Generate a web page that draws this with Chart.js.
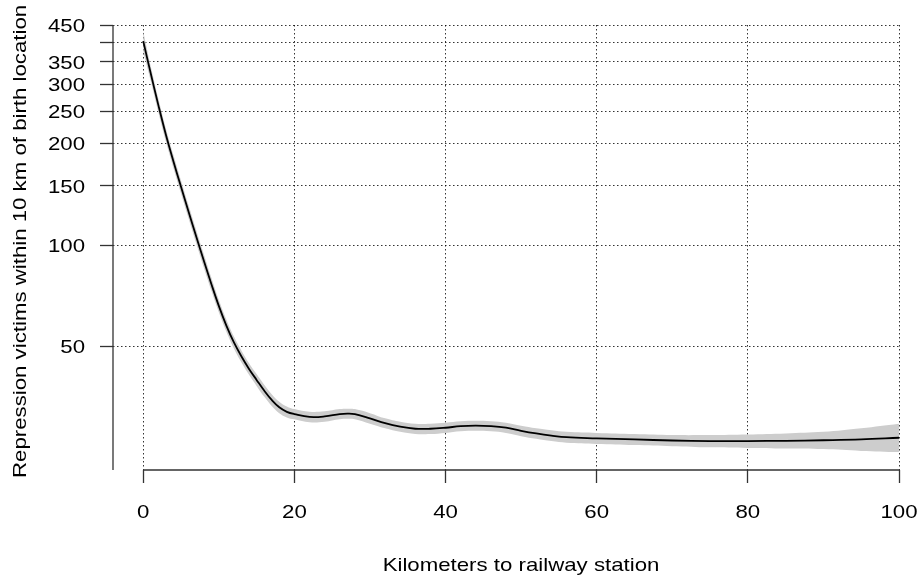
<!DOCTYPE html>
<html>
<head>
<meta charset="utf-8">
<script src="https://cdn.jsdelivr.net/npm/chart.js@4.4.1/dist/chart.umd.min.js"></script>
<style>
  html, body { margin: 0; padding: 0; background: #fff; }
  canvas { display: block; }
</style>
</head>
<body>
<canvas id="smoothChart" width="920" height="581"></canvas>
<script>
// Distance to railway station (km) and fitted victims count with its band
const kmValues = [0, 1, 2, 3, 4, 5, 6, 7, 8, 9, 10, 11, 12, 13, 14, 15, 16, 17, 18, 19, 20,
  22, 24, 26, 27, 28, 30, 32, 34, 36, 38, 40, 42, 44, 46, 48, 50, 52, 54, 56, 60,
  65, 70, 75, 80, 85, 90, 95, 100];
const fitValues = [403, 322.8, 260.3, 212.5, 177.1, 148.9, 125.6, 106.2, 90.1, 76.8, 66.0, 57.7, 51.4, 46.7, 42.9, 39.8, 37.0, 34.7, 33.0, 32.0, 31.5,
  30.9, 31.0, 31.5, 31.6, 31.5, 30.6, 29.6, 28.9, 28.5, 28.5, 28.7, 29.0, 29.1, 29.0, 28.7, 28.1, 27.6, 27.2, 26.9, 26.7,
  26.5, 26.3, 26.2, 26.2, 26.25, 26.35, 26.5, 26.8];
const upperValues = [431, 339, 272.5, 222, 185, 155.6, 131.3, 111, 94.2, 80.2, 68.8, 60.1, 53.5, 48.6, 44.6, 41.4, 38.5, 36.1, 34.3, 33.2, 32.6,
  32.0, 32.1, 32.6, 32.7, 32.6, 31.7, 30.6, 29.9, 29.5, 29.5, 29.7, 30.0, 30.1, 30.0, 29.7, 29.1, 28.6, 28.2, 27.9, 27.7,
  27.5, 27.3, 27.3, 27.4, 27.6, 27.9, 28.6, 29.5];
const lowerValues = [375, 307, 248, 203, 169.2, 142.2, 120, 101.4, 86, 73.4, 63.2, 55.3, 49.3, 44.8, 41.2, 38.2, 35.5, 33.3, 31.7, 30.8, 30.4,
  29.8, 29.9, 30.4, 30.5, 30.4, 29.5, 28.6, 27.9, 27.5, 27.5, 27.7, 28.0, 28.1, 28.0, 27.7, 27.1, 26.6, 26.2, 25.9, 25.7,
  25.5, 25.3, 25.1, 25.0, 24.9, 24.8, 24.5, 24.3];

const xTicks = [0, 20, 40, 60, 80, 100];
const xTickLabels = ['0', '20', '40', '60', '80', '100'];
const yTicks = [50, 100, 150, 200, 250, 300, 350, 400, 450];
const yTickLabels = ['50', '100', '150', '200', '250', '300', '350', '', '450'];

const xTitle = 'Kilometers to railway station';
const yTitle = 'Repression victims within 10 km of birth location';

const FONT = "19px 'Liberation Sans', Arial, sans-serif";
const STRETCH = 1.17; // the reference text is set a little wide
const toPoints = vals => kmValues.map((k, i) => ({ x: k, y: vals[i] }));

function drawText(ctx, text, x, y, align, angle) {
  ctx.save();
  ctx.translate(x, y);
  if (angle) ctx.rotate(angle);
  ctx.scale(STRETCH, 1);
  ctx.textAlign = align;
  ctx.fillText(text, 0, 0);
  ctx.restore();
}

// R style axes: y line over the full height, x line only between first and last tick
const axesAndTitles = {
  id: 'axesAndTitles',
  afterDraw(chart) {
    const { ctx, chartArea, scales } = chart;
    ctx.save();
    ctx.strokeStyle = '#333';
    ctx.lineWidth = 1.3;
    ctx.beginPath();
    ctx.moveTo(chartArea.left, chartArea.top);
    ctx.lineTo(chartArea.left, chartArea.bottom);
    ctx.moveTo(scales.x.getPixelForValue(xTicks[0]), chartArea.bottom);
    ctx.lineTo(scales.x.getPixelForValue(xTicks[xTicks.length - 1]), chartArea.bottom);
    ctx.stroke();

    ctx.fillStyle = '#000';
    ctx.font = FONT;
    ctx.textBaseline = 'alphabetic';
    xTicks.forEach((v, i) => {
      drawText(ctx, xTickLabels[i], scales.x.getPixelForValue(v), chartArea.bottom + 48, 'center');
    });
    yTicks.forEach((v, i) => {
      drawText(ctx, yTickLabels[i], chartArea.left - 28, scales.y.getPixelForValue(v) + 6.8, 'right');
    });
    drawText(ctx, xTitle, chartArea.left + 408, 571, 'center');
    drawText(ctx, yTitle, 25.5, 478, 'left', -Math.PI / 2);
    ctx.restore();
  }
};

const gridDash = [1.5, 2.5];
const gridColor = 'rgba(0,0,0,0.8)';

new Chart(document.getElementById('smoothChart').getContext('2d'), {
  type: 'line',
  data: {
    datasets: [
      {
        label: 'fit',
        data: toPoints(fitValues),
        borderColor: '#000',
        borderWidth: 1.8,
        pointRadius: 0,
        fill: false,
        tension: 0.4,
        order: 0
      },
      {
        label: 'upper',
        data: toPoints(upperValues),
        borderWidth: 0,
        borderColor: 'rgba(0,0,0,0)',
        backgroundColor: '#cdcdcd',
        pointRadius: 0,
        fill: '+1',
        tension: 0.4,
        order: 1
      },
      {
        label: 'lower',
        data: toPoints(lowerValues),
        borderWidth: 0,
        borderColor: 'rgba(0,0,0,0)',
        pointRadius: 0,
        fill: false,
        tension: 0.4,
        order: 2
      }
    ]
  },
  options: {
    responsive: false,
    animation: false,
    layout: { padding: { left: 0, right: 21, top: 25, bottom: 0 } },
    plugins: {
      legend: { display: false },
      tooltip: { enabled: false }
    },
    scales: {
      x: {
        type: 'linear',
        min: -4,
        max: 100,
        afterBuildTicks: s => { s.ticks = xTicks.map(v => ({ value: v })); },
        afterFit: s => { s.height = 111; },
        ticks: { display: false },
        grid: {
          color: gridColor,
          lineWidth: 1,
          borderDash: gridDash,
          tickLength: 13,
          tickColor: '#333',
          tickWidth: 1.3,
          tickBorderDash: []
        },
        border: { display: false, dash: gridDash }
      },
      y: {
        type: 'logarithmic',
        min: 21.5,
        max: 450,
        afterBuildTicks: s => { s.ticks = yTicks.map(v => ({ value: v })); },
        afterFit: s => { s.width = 113; },
        ticks: { display: false },
        grid: {
          color: gridColor,
          lineWidth: 1,
          borderDash: gridDash,
          tickLength: 13,
          tickColor: '#333',
          tickWidth: 1.3,
          tickBorderDash: []
        },
        border: { display: false, dash: gridDash }
      }
    }
  },
  plugins: [axesAndTitles]
});
</script>
</body>
</html>
